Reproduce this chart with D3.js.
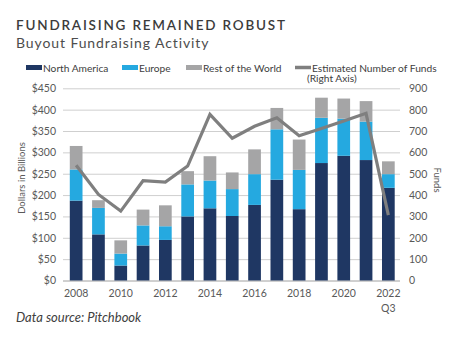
<!DOCTYPE html>
<html>
<head>
<meta charset="utf-8">
<script src="https://cdn.jsdelivr.net/npm/d3@7"></script>
<style>
  html, body { margin: 0; padding: 0; background: #ffffff; }
  svg { display: block; }
  text { font-family: Lato, "Open Sans", sans-serif; }
</style>
</head>
<body>
<svg id="chart" width="475" height="339"></svg>
<script>
// Buyout fundraising by region ($B) and estimated number of funds
const years = [2008, 2009, 2010, 2011, 2012, 2013, 2014, 2015, 2016, 2017, 2018, 2019, 2020, 2021, 2022];
const northAmerica = [187, 108, 35, 82, 95, 150, 169, 151, 177, 236, 167, 275, 292, 282, 217];
const europe       = [73, 62, 28, 47, 32, 75, 65, 63, 72, 118, 92, 106, 87, 90, 32];
const restOfWorld  = [55, 18, 31, 37, 49, 31, 57, 39, 58, 50, 71, 47, 47, 48, 30];
const fundCount    = [540, 403, 325, 467, 461, 536, 778, 666, 722, 762, 678, 712, 747, 783, 306];

const leftTicks = [0, 50, 100, 150, 200, 250, 300, 350, 400, 450];
const rightTicks = [0, 100, 200, 300, 400, 500, 600, 700, 800, 900];
const xTickYears = [2008, 2010, 2012, 2014, 2016, 2018, 2020, 2022];

const seriesKeys = ["North America", "Europe", "Rest of the World"];
const seriesColors = ["#1f3763", "#25a9e0", "#a5a5a6"];
const lineColor = "#7f7f7f";
const labelColor = "#595959";
const bodyFont = "Lato, 'Open Sans', sans-serif";
const headFont = "'Open Sans', sans-serif";

const svg = d3.select("#chart");

const x = d3.scaleBand().domain(years).range([65, 399.5]).paddingInner(0.43).paddingOuter(0.215);
const y = d3.scaleLinear().domain([0, 450]).range([280.5, 88.3]);
const yRight = d3.scaleLinear().domain([0, 900]).range([280.5, 88.3]);

// Title block
svg.append("text").attr("x", 16).attr("y", 30)
  .attr("font-family", headFont)
  .attr("font-size", 13.5).attr("font-weight", 600).attr("letter-spacing", 1.8)
  .attr("fill", "#3b3b3b").text("FUNDRAISING REMAINED ROBUST");
svg.append("text").attr("x", 16).attr("y", 48)
  .attr("font-family", headFont)
  .attr("font-size", 14).attr("letter-spacing", 0.9)
  .attr("fill", "#4d4d4d").text("Buyout Fundraising Activity");

// Gridlines
svg.append("g").selectAll("line").data(leftTicks).join("line")
  .attr("x1", 63).attr("x2", 400)
  .attr("y1", d => y(d) + 0.5).attr("y2", d => y(d) + 0.5)
  .attr("stroke", d => d === 0 ? "#a0a0a0" : "#cfcfcf").attr("stroke-width", 1);

// Stacked bars
const rows = years.map((yr, i) => ({
  year: yr,
  "North America": northAmerica[i],
  "Europe": europe[i],
  "Rest of the World": restOfWorld[i]
}));
const stacked = d3.stack().keys(seriesKeys)(rows);

svg.append("g").selectAll("g").data(stacked).join("g")
  .attr("fill", (d, i) => seriesColors[i])
  .selectAll("rect").data(d => d).join("rect")
  .attr("x", d => x(d.data.year))
  .attr("width", x.bandwidth())
  .attr("y", d => y(d[1]))
  .attr("height", d => y(d[0]) - y(d[1]));

// Fund count line (right axis)
const line = d3.line()
  .x((d, i) => x(years[i]) + x.bandwidth() / 2)
  .y(d => yRight(d));
svg.append("path").datum(fundCount)
  .attr("d", line).attr("fill", "none")
  .attr("stroke", lineColor).attr("stroke-width", 3.2)
  .attr("stroke-linejoin", "miter");

// Left axis labels
const leftAxis = d3.axisLeft(y).tickValues(leftTicks).tickSize(0).tickPadding(0)
  .tickFormat(d => "$" + d);
const gl = svg.append("g").attr("transform", "translate(56,0)").call(leftAxis);
gl.select(".domain").remove();
gl.selectAll("text").attr("font-size", 10.5).attr("fill", labelColor)
  .attr("font-family", bodyFont);

// Right axis labels
const rightAxis = d3.axisRight(yRight).tickValues(rightTicks).tickSize(0).tickPadding(0);
const gr = svg.append("g").attr("transform", "translate(409,0)").call(rightAxis);
gr.select(".domain").remove();
gr.selectAll("text").attr("font-size", 10.5).attr("fill", labelColor)
  .attr("font-family", bodyFont);

// Bottom axis labels
const bottomAxis = d3.axisBottom(x).tickValues(xTickYears).tickSize(0).tickPadding(0);
const gb = svg.append("g").attr("transform", "translate(0,290)").call(bottomAxis);
gb.select(".domain").remove();
gb.selectAll("text").attr("font-size", 10.5).attr("fill", labelColor)
  .attr("font-family", bodyFont);
svg.append("text")
  .attr("x", x(2022) + x.bandwidth() / 2).attr("y", 312)
  .attr("text-anchor", "middle").attr("font-size", 10.5).attr("fill", labelColor)
  .text("Q3");

// Axis titles
svg.append("text")
  .attr("transform", "translate(25,178) rotate(-90)")
  .attr("text-anchor", "middle").attr("font-size", 9.5).attr("fill", labelColor)
  .text("Dollars in Billions");
svg.append("text")
  .attr("transform", "translate(434,180) rotate(90)")
  .attr("text-anchor", "middle").attr("font-size", 9.5).attr("fill", labelColor)
  .text("Funds");

// Legend
const legendItems = [
  { label: "North America", color: seriesColors[0], x: 26, h: 5 },
  { label: "Europe", color: seriesColors[1], x: 122, h: 5 },
  { label: "Rest of the World", color: seriesColors[2], x: 186, h: 5 },
  { label: "Estimated Number of Funds", color: lineColor, x: 295, h: 3.5 }
];
const lg = svg.append("g");
legendItems.forEach(item => {
  lg.append("rect").attr("x", item.x).attr("y", 67.5 - item.h / 2)
    .attr("width", 16).attr("height", item.h).attr("fill", item.color);
  lg.append("text").attr("x", item.x + 17).attr("y", 71.5)
    .attr("font-size", 10.2).attr("fill", "#404040").text(item.label);
});
lg.append("text").attr("x", 307).attr("y", 82)
  .attr("font-size", 10.2).attr("fill", "#404040").text("(Right Axis)");

// Source note
svg.append("text").attr("x", 16).attr("y", 322)
  .attr("font-family", headFont)
  .attr("font-size", 13).attr("font-style", "italic").attr("fill", "#404040")
  .text("Data source: Pitchbook");
</script>
</body>
</html>
